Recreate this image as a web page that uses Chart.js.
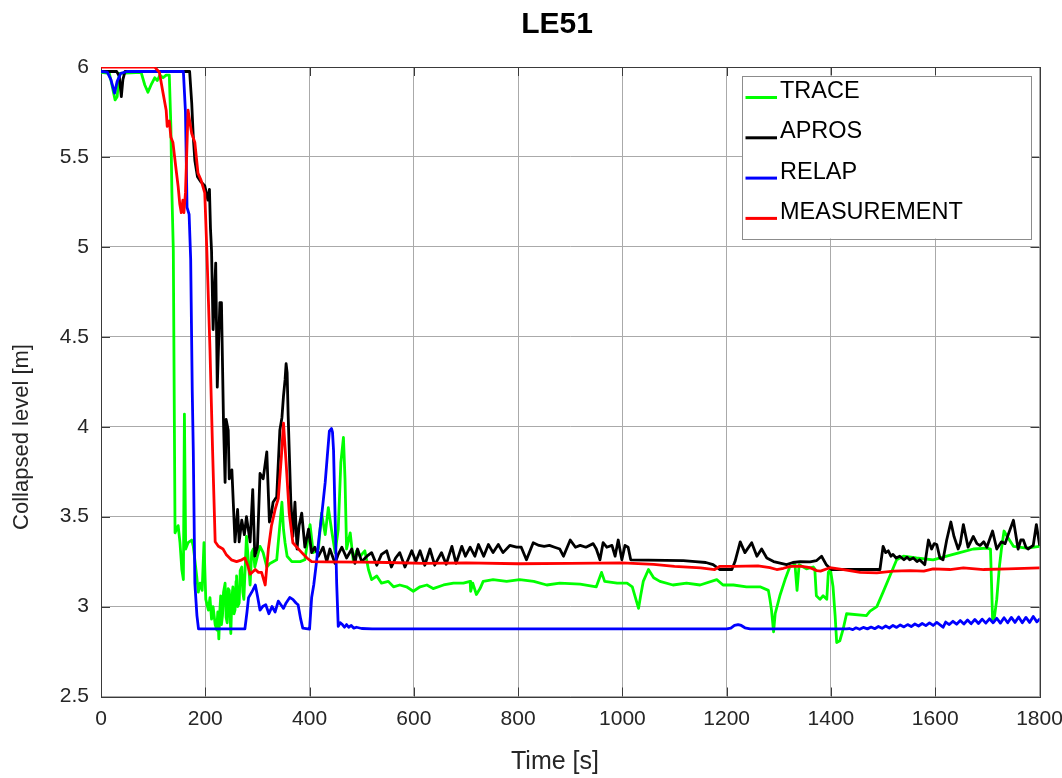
<!DOCTYPE html>
<html>
<head>
<meta charset="utf-8">
<title>LE51</title>
<script src="https://cdn.jsdelivr.net/npm/chart.js@4/dist/chart.umd.min.js"></script>
<style>
  html, body { margin: 0; padding: 0; background: #ffffff; }
  canvas { display: block; }
</style>
</head>
<body>
<canvas id="chart" width="1062" height="778"></canvas>
<script>
// Axis ticks and captions
const timeTicks = [0, 200, 400, 600, 800, 1000, 1200, 1400, 1600, 1800];
const levelTicks = [2.5, 3, 3.5, 4, 4.5, 5, 5.5, 6];
const chartTitle = 'LE51';
const timeCaption = 'Time [s]';
const levelCaption = 'Collapsed level [m]';

// TRACE collapsed level
const traceTime = [0,16,21,27,31,35,77,84,90,96,103,108,113,119,125,131,134,136,138.7,142,148,151.5,155,158,160,162.4,167,174,177,180,183.5,186.6,190,194,197.5,201,206,209,212,215,217,219,222,224,226,228,229.6,231,233,235,238,240,242,244,246,248,249,251,253,255,257,259,260,262,265,267,270,272,274,277,279,282.5,286,289,292,295,300,305,311,318,324,337,347,350,353,357,366,382,391,401,407,417,423,430,436,442,449,455,460,465,468,471,478,484,490,497,506,513,519,529,538,551,561,573,586,599,612,625,637,657,676,695,708,709,713,720,727,733,752,778,803,830,855,880,919,950,960,966,990,1009,1019,1025,1031,1035,1040,1050,1060,1072,1097,1123,1149,1181,1193,1213,1238,1264,1280,1283,1286,1290,1293,1302,1312,1321,1331,1335,1339,1353,1366,1369,1372,1379,1385,1392,1395,1399,1404,1408,1411,1417,1423,1430,1468,1475,1488,1500,1513,1526,1539,1564,1596,1622,1647,1673,1699,1706,1708,1710,1713,1718,1723,1727,1732,1738,1750,1775,1800];
const traceLevel = [5.97,5.965,5.90,5.817,5.835,5.965,5.97,5.90,5.86,5.90,5.94,5.925,5.955,5.94,5.955,5.955,5.67,5.30,4.98,3.41,3.45,3.355,3.206,3.15,4.07,3.32,3.355,3.37,3.335,3.26,3.17,3.08,3.13,3.09,3.355,3.04,2.98,3.05,2.93,3.0,2.95,2.90,2.87,2.97,2.82,2.98,3.06,2.90,2.95,3.08,3.13,2.94,2.91,3.10,3.09,2.92,2.85,3.05,3.11,2.96,2.98,3.14,3.17,3.0,3.02,3.2,3.22,3.08,3.04,3.25,3.39,3.26,3.12,3.30,3.32,3.22,3.28,3.335,3.30,3.22,3.24,3.26,3.58,3.43,3.355,3.28,3.25,3.25,3.26,3.456,3.30,3.32,3.52,3.40,3.55,3.43,3.30,3.43,3.80,3.94,3.71,3.32,3.41,3.25,3.31,3.28,3.31,3.206,3.15,3.17,3.13,3.14,3.11,3.12,3.11,3.085,3.11,3.12,3.10,3.12,3.13,3.13,3.14,3.085,3.13,3.067,3.10,3.14,3.15,3.14,3.15,3.14,3.12,3.13,3.125,3.11,3.19,3.14,3.13,3.13,3.11,3.05,2.99,3.06,3.14,3.206,3.16,3.14,3.12,3.13,3.12,3.15,3.12,3.12,3.11,3.11,3.09,3.04,2.98,2.86,2.96,3.06,3.15,3.22,3.233,3.09,3.233,3.21,3.22,3.21,3.06,3.04,3.06,3.04,3.19,3.206,3.11,2.95,2.80,2.81,2.87,2.96,2.95,2.975,3.0,3.08,3.17,3.26,3.28,3.27,3.26,3.28,3.30,3.32,3.325,3.32,3.13,2.93,2.93,3.04,3.22,3.32,3.42,3.39,3.335,3.325,3.335];

// APROS collapsed level
const aprosTime = [0,30,35,39,42,46,170,174,177,180,185,192,199,205,208,210,212,215,220,223,228,231,235,238,240,244,246,251,257,262,265,270,275,279,286,291,295,300,305,311,318,323,327,330,337,343,347,350,353,355,357,359,364,368,372,376,380,385,391,398,404,410,417,426,433,439,449,455,462,471,481,487,492,500,510,519,529,538,548,557,565,573,583,596,604,612,621,631,640,653,662,673,681,692,699,708,717,724,734,743,752,762,771,784,797,806,816,829,840,850,860,870,880,887,900,910,919,930,944,950,957,963,970,980,986,992,999,1005,1011,1016,1117,1140,1160,1174,1187,1210,1216,1226,1235,1248,1258,1267,1277,1290,1315,1327,1341,1360,1372,1382,1391,1401,1494,1500,1505,1510,1515,1519,1525,1532,1540,1546,1551,1558,1565,1570,1580,1587,1593,1598,1603,1609,1615,1622,1630,1636,1644,1648,1654,1663,1668,1673,1680,1686,1693,1699,1710,1718,1727,1734,1740,1750,1759,1764,1769,1774,1778,1788,1794,1800];
const aprosLevel = [5.975,5.975,5.95,5.835,5.93,5.975,5.975,5.80,5.61,5.48,5.39,5.36,5.34,5.26,5.32,5.10,4.98,4.54,4.91,4.22,4.69,4.69,4.02,3.69,4.04,3.98,3.71,3.76,3.36,3.54,3.36,3.48,3.40,3.50,3.36,3.65,3.28,3.33,3.74,3.71,3.86,3.47,3.52,3.58,3.61,3.98,4.05,4.17,4.26,4.35,4.30,4.06,3.59,3.39,3.58,3.32,3.45,3.52,3.33,3.43,3.30,3.33,3.28,3.33,3.25,3.32,3.24,3.29,3.33,3.27,3.32,3.24,3.32,3.25,3.28,3.30,3.23,3.29,3.31,3.22,3.27,3.30,3.22,3.31,3.25,3.31,3.23,3.32,3.23,3.30,3.235,3.335,3.24,3.335,3.28,3.33,3.28,3.345,3.28,3.345,3.30,3.345,3.30,3.34,3.33,3.33,3.26,3.355,3.34,3.335,3.34,3.33,3.32,3.28,3.37,3.33,3.34,3.33,3.35,3.32,3.26,3.355,3.33,3.34,3.28,3.37,3.26,3.34,3.33,3.26,3.256,3.25,3.245,3.233,3.206,3.206,3.25,3.36,3.30,3.355,3.28,3.32,3.27,3.25,3.233,3.245,3.25,3.248,3.255,3.28,3.233,3.206,3.206,3.335,3.30,3.31,3.28,3.29,3.27,3.28,3.26,3.275,3.26,3.27,3.25,3.26,3.233,3.37,3.32,3.35,3.345,3.27,3.26,3.37,3.47,3.39,3.32,3.35,3.456,3.33,3.36,3.39,3.35,3.34,3.36,3.33,3.42,3.32,3.36,3.35,3.40,3.48,3.32,3.37,3.37,3.33,3.32,3.34,3.456,3.345];

// RELAP collapsed level
const relapTime = [0,12,19,26,31,38,50,158,162,165,169,172,175,177,180,184,187,276,280,283,291,296,300,305,310,316,322,328,334,340,345,350,355,362,368,374,378,383,387,400,404,408,413,418,423,430,434,438,442,444,446,449,452,455,459,463,467,471,475,480,485,490,500,520,1200,1208,1215,1222,1228,1235,1245,1430,1435,1442,1448,1455,1462,1470,1477,1484,1491,1498,1505,1512,1519,1526,1533,1540,1547,1554,1561,1568,1575,1582,1589,1596,1603,1610,1615,1620,1627,1634,1641,1648,1655,1662,1669,1676,1683,1690,1697,1704,1711,1718,1725,1732,1739,1746,1753,1760,1767,1774,1781,1788,1795,1800];
const relapLevel = [5.975,5.972,5.93,5.855,5.92,5.965,5.975,5.975,5.75,5.22,5.18,4.93,4.20,3.87,3.13,2.95,2.876,2.876,2.97,3.05,3.09,3.12,3.06,2.98,3.00,3.01,2.96,3.00,2.97,3.03,3.01,2.99,3.02,3.05,3.04,3.02,3.01,2.93,2.88,2.875,3.05,3.12,3.24,3.38,3.50,3.69,3.835,3.975,3.99,3.97,3.87,3.50,3.13,2.89,2.91,2.90,2.885,2.90,2.885,2.895,2.88,2.885,2.878,2.876,2.876,2.88,2.895,2.90,2.895,2.882,2.876,2.876,2.878,2.872,2.882,2.874,2.884,2.876,2.886,2.877,2.889,2.879,2.892,2.881,2.895,2.884,2.898,2.887,2.90,2.889,2.903,2.892,2.906,2.894,2.909,2.895,2.912,2.897,2.885,2.914,2.90,2.918,2.902,2.922,2.903,2.925,2.905,2.928,2.906,2.93,2.908,2.932,2.91,2.935,2.908,2.938,2.91,2.94,2.912,2.942,2.91,2.94,2.912,2.945,2.915,2.93];

// Measured collapsed level
const measTime = [0,103,112,119,125,127,131,134,138,144,148,151,154,157,159,162,164,167,170,174,180,186,192,199,203,209,214,219,225,234,240,250,260,270,276,282,286,296,302,308,315,321,327,334,340,346,350,355,361,368,382,395,404,430,500,550,620,700,800,900,1000,1060,1100,1150,1177,1187,1213,1260,1283,1296,1309,1322,1341,1360,1373,1380,1398,1424,1456,1488,1520,1552,1578,1596,1628,1654,1693,1740,1800];
const measLevel = [6.0,6.0,5.97,5.855,5.76,5.67,5.70,5.61,5.58,5.43,5.335,5.24,5.19,5.26,5.19,5.30,5.48,5.76,5.70,5.63,5.58,5.41,5.37,5.30,4.98,4.43,3.87,3.36,3.335,3.32,3.29,3.26,3.25,3.26,3.27,3.224,3.18,3.206,3.19,3.19,3.12,3.32,3.45,3.54,3.60,3.835,4.02,3.80,3.52,3.355,3.31,3.27,3.25,3.248,3.247,3.245,3.24,3.243,3.238,3.24,3.243,3.235,3.224,3.215,3.206,3.224,3.224,3.226,3.216,3.206,3.213,3.224,3.225,3.216,3.20,3.197,3.216,3.206,3.19,3.187,3.197,3.20,3.197,3.21,3.206,3.215,3.206,3.21,3.215];

const FONT = "'Liberation Sans', Arial, Helvetica, sans-serif";
const TEXT_COLOR = '#262626';
const AXIS_COLOR = '#3a3a3a';
const GRID_COLOR = '#aaaaaa';

function toPoints(times, levels) {
  return times.map((t, i) => ({ x: t, y: levels[i] }));
}

// Axes frame with inward tick marks on all four sides
const axesFrame = {
  id: 'axesFrame',
  beforeDatasetsDraw(chart) {
    const { ctx, chartArea: a, scales } = chart;
    const len = 9;
    ctx.save();
    ctx.strokeStyle = AXIS_COLOR;
    ctx.lineWidth = 1;
    ctx.beginPath();
    timeTicks.forEach(v => {
      const px = Math.round(scales.x.getPixelForValue(v)) + 0.5;
      ctx.moveTo(px, a.bottom); ctx.lineTo(px, a.bottom - len);
      ctx.moveTo(px, a.top); ctx.lineTo(px, a.top + len);
    });
    levelTicks.forEach(v => {
      const py = Math.round(scales.y.getPixelForValue(v)) + 0.5;
      ctx.moveTo(a.left, py); ctx.lineTo(a.left + len, py);
      ctx.moveTo(a.right, py); ctx.lineTo(a.right - len, py);
    });
    ctx.stroke();
    ctx.strokeRect(Math.round(a.left) + 0.5, Math.round(a.top) + 0.5,
                   Math.round(a.right - a.left), Math.round(a.bottom - a.top));
    ctx.restore();
  }
};

// Title and axis captions
const captions = {
  id: 'captions',
  afterDraw(chart) {
    const { ctx } = chart;
    ctx.save();
    ctx.textAlign = 'center';
    ctx.textBaseline = 'middle';
    ctx.fillStyle = '#000000';
    ctx.font = 'bold 30px ' + FONT;
    ctx.fillText(chartTitle, 557, 25);
    ctx.fillStyle = TEXT_COLOR;
    ctx.font = '25px ' + FONT;
    ctx.fillText(timeCaption, 555, 762);
    ctx.translate(22, 437);
    ctx.rotate(-Math.PI / 2);
    ctx.font = '22px ' + FONT;
    ctx.fillText(levelCaption, 0, 0);
    ctx.restore();
  }
};

// Boxed legend in the upper right of the plot area
const boxedLegend = {
  id: 'boxedLegend',
  afterDatasetsDraw(chart) {
    const { ctx, chartArea: a } = chart;
    const w = 289, h = 163;
    const x0 = a.right - 8.5 - w;
    const y0 = a.top + 8.5;
    ctx.save();
    ctx.fillStyle = '#ffffff';
    ctx.fillRect(x0, y0, w, h);
    ctx.strokeStyle = '#8c8c8c';
    ctx.lineWidth = 1;
    ctx.strokeRect(Math.round(x0) + 0.5, Math.round(y0) + 0.5, w, h);
    ctx.font = '23.5px ' + FONT;
    ctx.textBaseline = 'alphabetic';
    ctx.textAlign = 'left';
    chart.data.datasets.forEach((ds, i) => {
      const base = y0 + 22.5 + i * 40.3;
      ctx.strokeStyle = ds.borderColor;
      ctx.lineWidth = 3;
      ctx.beginPath();
      ctx.moveTo(x0 + 3.5, base - 0.5);
      ctx.lineTo(x0 + 35, base - 0.5);
      ctx.stroke();
      ctx.fillStyle = '#000000';
      ctx.fillText(ds.label, x0 + 38, base);
    });
    ctx.restore();
  }
};

new Chart(document.getElementById('chart'), {
  type: 'line',
  data: {
    datasets: [
      { label: 'TRACE', data: toPoints(traceTime, traceLevel), borderColor: '#00ff00', order: 4 },
      { label: 'APROS', data: toPoints(aprosTime, aprosLevel), borderColor: '#000000', order: 3 },
      { label: 'RELAP', data: toPoints(relapTime, relapLevel), borderColor: '#0000ff', order: 2 },
      { label: 'MEASUREMENT', data: toPoints(measTime, measLevel), borderColor: '#ff0000', order: 1 }
    ]
  },
  options: {
    responsive: false,
    animation: false,
    parsing: false,
    layout: { padding: { left: 0, right: 22.5, top: 67, bottom: 0 } },
    elements: {
      point: { radius: 0 },
      line: { borderWidth: 2.8, tension: 0, borderJoinStyle: 'round', borderCapStyle: 'round' }
    },
    plugins: {
      legend: { display: false },
      tooltip: { enabled: false },
      title: { display: false }
    },
    scales: {
      x: {
        type: 'linear',
        min: 0,
        max: 1800,
        afterBuildTicks: s => { s.ticks = timeTicks.map(v => ({ value: v })); },
        afterFit: s => { s.height = 81.5; s.paddingLeft = 0; s.paddingRight = 0; },
        ticks: {
          color: TEXT_COLOR,
          font: { family: FONT, size: 21 },
          padding: 10,
          maxRotation: 0,
          autoSkip: false,
          callback: v => String(v)
        },
        grid: { color: GRID_COLOR, lineWidth: 1, drawTicks: false },
        border: { display: false }
      },
      y: {
        type: 'linear',
        min: 2.5,
        max: 6,
        afterBuildTicks: s => { s.ticks = levelTicks.map(v => ({ value: v })); },
        afterFit: s => { s.width = 101; s.paddingTop = 0; s.paddingBottom = 0; },
        ticks: {
          color: TEXT_COLOR,
          font: { family: FONT, size: 21 },
          padding: 12,
          autoSkip: false,
          callback: v => String(v)
        },
        grid: { color: GRID_COLOR, lineWidth: 1, drawTicks: false },
        border: { display: false }
      }
    }
  },
  plugins: [axesFrame, boxedLegend, captions]
});
</script>
</body>
</html>
